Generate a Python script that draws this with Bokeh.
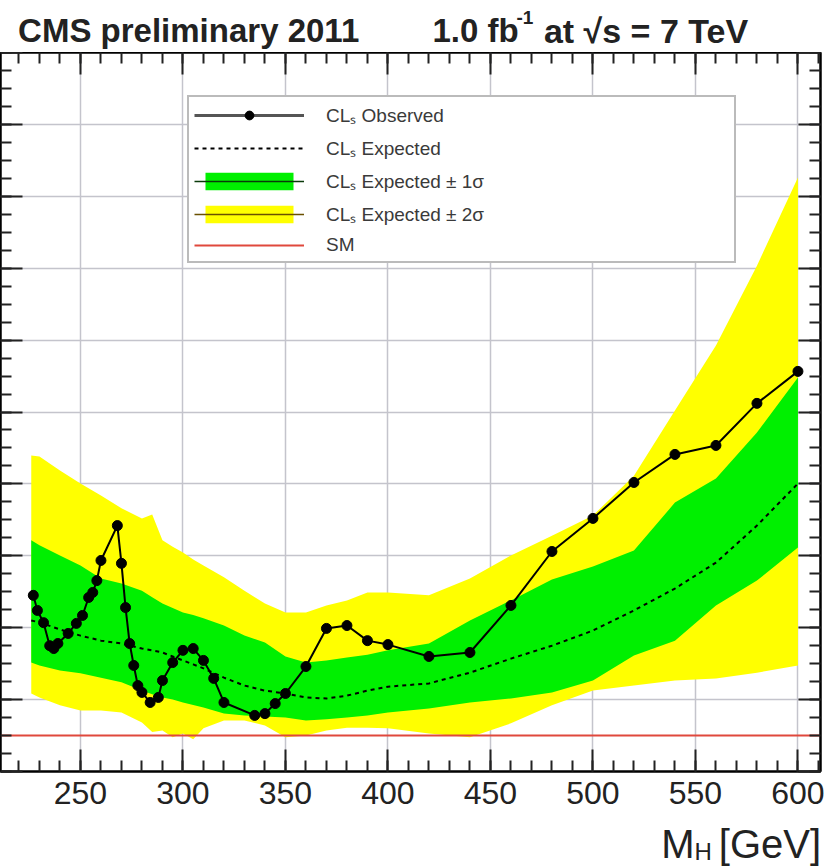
from bokeh.plotting import figure
from bokeh.layouts import column
from bokeh.models import (Range1d, LinearAxis, SingleIntervalTicker, Label, Legend,
                          LegendItem, Grid, CustomJSTickFormatter)
from bokeh.embed import file_html
from bokeh.resources import INLINE

# ---------------- data ----------------
obs_mass = [227, 229, 232, 235, 237, 239, 244, 248, 251, 254, 256, 258, 260, 268, 270,
            272, 274, 276, 278, 280, 284, 288, 290, 295, 300, 305, 310, 315, 320, 335,
            340, 345, 350, 360, 370, 380, 390, 400, 420, 440, 460, 480, 500, 520, 540,
            560, 580, 600]
obs_limit = [4.9, 4.48, 4.14, 3.5, 3.42, 3.56, 3.84, 4.12, 4.34, 4.84, 4.98, 5.31, 5.87, 6.84, 5.79,
             4.56, 3.56, 2.95, 2.39, 2.2, 1.92, 2.06, 2.53, 3.03, 3.37, 3.42, 3.09, 2.59, 1.92, 1.56,
             1.61, 1.89, 2.17, 2.92, 3.98, 4.06, 3.64, 3.53, 3.2, 3.31, 4.62, 6.12, 7.04, 8.04, 8.82,
             9.07, 10.24, 11.13]

band_mass = [226, 230, 240, 250, 260, 270, 280, 285, 290, 295, 300, 305, 310, 320, 330, 340,
             350, 360, 370, 380, 390, 400, 420, 440, 460, 480, 500, 520, 540, 560, 580, 600]
exp_median = [4.2, 4.15, 3.95, 3.78, 3.64, 3.56, 3.42, 3.37, 3.31, 3.2, 3.09, 2.98, 2.87, 2.61, 2.39, 2.25,
              2.17, 2.06, 2.03, 2.11, 2.25, 2.36, 2.45, 2.75, 3.14, 3.5, 3.92, 4.48, 5.09, 5.81, 6.84, 8.01]
exp_p1 = [6.43, 6.29, 6.01, 5.73, 5.37, 5.23, 5.03, 4.85, 4.67, 4.55, 4.42, 4.35, 4.26, 4.06, 3.78, 3.59,
          3.2, 3.03, 3.09, 3.17, 3.25, 3.37, 3.56, 4.2, 4.76, 5.34, 5.7, 6.15, 7.48, 8.15, 9.43, 10.96]
exp_m1 = [3.03, 2.95, 2.81, 2.73, 2.61, 2.48, 2.25, 2.15, 2.06, 2.0, 1.92, 1.85, 1.78, 1.61, 1.56, 1.53,
          1.5, 1.42, 1.45, 1.5, 1.56, 1.64, 1.75, 1.92, 2.03, 2.2, 2.53, 3.23, 3.64, 4.62, 5.31, 6.23]
exp_p2 = [8.79, 8.76, 8.37, 8.01, 7.68, 7.32, 7.04, 7.15, 6.43, 6.25, 6.09, 5.9, 5.73, 5.4, 5.03, 4.67,
          4.42, 4.42, 4.62, 4.76, 4.98, 4.98, 4.9, 5.37, 6.01, 6.56, 7.12, 8.23, 10.04, 11.85, 14.07, 16.52]
exp_m2 = [2.17, 2.06, 1.84, 1.7, 1.7, 1.64, 1.36, 1.1, 1.14, 0.95, 1.06, 0.9, 1.2, 1.42, 1.42, 1.28,
          0.95, 1.0, 1.14, 1.22, 1.22, 1.2, 1.06, 0.95, 1.34, 1.84, 2.25, 2.39, 2.53, 2.59, 2.75, 2.95]
sm_level = 1.0

x_range_lim = (211, 611)
y_range_lim = (0, 20)
x_major_step, x_minor_per = 50, 5
y_major_step, y_minor_per = 2, 4

legend_labels = ["CL\u209b Observed", "CL\u209b Expected", "CL\u209b Expected \u00b1 1\u03c3",
                 "CL\u209b Expected \u00b1 2\u03c3", "SM"]
header_left = "CMS preliminary 2011"
header_lumi = "1.0 fb"
header_lumi_sup = "-1"
header_energy = "at \u221as = 7 TeV"
xtitle_main, xtitle_sub, xtitle_unit = "M", "H", "[GeV]"

# ---------------- layout constants (pixels) ----------------
W = 839
HEAD_H = 52
FRAME_H = 719
MAIN_BOTTOM = 45
MAIN_H = FRAME_H + MAIN_BOTTOM
FOOT_H = 868 - HEAD_H - MAIN_H
FR = 820
FONT = "Liberation Sans"
TXT = "#222222"

# ---------------- header strip ----------------
head = figure(width=W, height=HEAD_H, output_backend="svg", toolbar_location=None, title=None,
              x_range=Range1d(0, W), y_range=Range1d(0, HEAD_H),
              x_axis_type=None, y_axis_type=None, min_border=0, outline_line_color=None)
head.grid.visible = False
hb = 22  # baseline height from bottom of strip
head.add_layout(Label(x=18, y=hb, text=header_left, text_font=FONT, text_font_size="33px",
                      text_font_style="bold", text_color=TXT, text_baseline="alphabetic"))
head.add_layout(Label(x=442, y=hb, text=header_lumi, text_font=FONT, text_font_size="33px",
                      text_font_style="bold", text_color=TXT, text_baseline="alphabetic"))
head.add_layout(Label(x=528, y=hb + 13, text=header_lumi_sup, text_font=FONT, text_font_size="19px",
                      text_font_style="bold", text_color=TXT, text_baseline="alphabetic"))
head.add_layout(Label(x=556, y=hb, text=header_energy, text_font=FONT, text_font_size="34px",
                      text_font_style="bold", text_color=TXT, text_baseline="alphabetic"))

# ---------------- main plot ----------------
p = figure(width=W, height=MAIN_H, output_backend="svg", toolbar_location=None,
           x_range=Range1d(*x_range_lim), y_range=Range1d(*y_range_lim),
           x_axis_type=None, y_axis_type=None,
           min_border_left=0, min_border_right=W - FR, min_border_top=0,
           min_border_bottom=MAIN_BOTTOM)
p.outline_line_color = "black"
p.outline_line_width = 2
p.background_fill_color = "white"
p.border_fill_color = "white"

xt = SingleIntervalTicker(interval=x_major_step, num_minor_ticks=x_minor_per)
yt = SingleIntervalTicker(interval=y_major_step, num_minor_ticks=y_minor_per)
blank = CustomJSTickFormatter(code="return ''")


def make_axis(ticker, show_labels=False):
    ax = LinearAxis(ticker=ticker)
    ax.major_tick_in = 22
    ax.major_tick_out = 0
    ax.minor_tick_in = 11
    ax.minor_tick_out = 0
    ax.axis_line_width = 2
    ax.axis_line_color = "black"
    ax.major_tick_line_width = 2
    ax.minor_tick_line_width = 2
    ax.major_tick_line_color = "#222222"
    ax.minor_tick_line_color = "#222222"
    if show_labels:
        ax.major_label_text_font = FONT
        ax.major_label_text_font_size = "32px"
        ax.major_label_text_color = TXT
        ax.major_label_standoff = 10
    else:
        ax.formatter = blank
        ax.major_label_text_font_size = "1px"
        ax.major_label_standoff = 0
    return ax


p.add_layout(make_axis(xt, True), "below")
p.add_layout(make_axis(xt), "above")
p.add_layout(make_axis(yt), "left")
p.add_layout(make_axis(yt), "right")
p.add_layout(Grid(dimension=0, ticker=xt, grid_line_color="#c4c4cc", grid_line_width=1.5))
p.add_layout(Grid(dimension=1, ticker=yt, grid_line_color="#c4c4cc", grid_line_width=1.5))

# bands and expected
r_y = p.varea(x=band_mass, y1=exp_m2, y2=exp_p2, fill_color="#ffff00")
r_g = p.varea(x=band_mass, y1=exp_m1, y2=exp_p1, fill_color="#00f000")
r_exp = p.line(band_mass, exp_median, line_color="black", line_width=2, line_dash="4 4")

# SM reference line across the full mass range
r_sm = p.line(list(x_range_lim), [sm_level, sm_level], line_color="#e0483c", line_width=2)

# observed
r_obs_l = p.line(obs_mass, obs_limit, line_color="black", line_width=2)
r_obs_m = p.scatter(obs_mass, obs_limit, marker="circle", size=10, color="black")

# legend-only line samples (NaN data: invisible in the plot)
nan = float("nan")
r_gline = p.line(x=[nan], y=[nan], line_color="#0a3a0a", line_width=1.5)
r_yline = p.line(x=[nan], y=[nan], line_color="#6a5000", line_width=1.5)
r_obs_leg = p.line(x=[nan], y=[nan], line_color="#555555", line_width=3)

legend = Legend(items=[
    LegendItem(label=legend_labels[0], renderers=[r_obs_leg, r_obs_m]),
    LegendItem(label=legend_labels[1], renderers=[r_exp]),
    LegendItem(label=legend_labels[2], renderers=[r_g, r_gline]),
    LegendItem(label=legend_labels[3], renderers=[r_y, r_yline]),
    LegendItem(label=legend_labels[4], renderers=[r_sm]),
], location=(187, FRAME_H - (263 - HEAD_H)), orientation="vertical",
    glyph_width=110, glyph_height=22, label_standoff=22, label_width=403, label_height=22,
    spacing=7, padding=5, margin=0,
    border_line_color="#777777", border_line_width=2,
    background_fill_color="white", background_fill_alpha=1.0,
    label_text_font=FONT, label_text_font_size="19px", label_text_color="#3a3a3a")
p.add_layout(legend)

# ---------------- footer strip with the axis title ----------------
foot = figure(width=W, height=FOOT_H, output_backend="svg", toolbar_location=None, title=None,
              x_range=Range1d(0, W), y_range=Range1d(0, FOOT_H),
              x_axis_type=None, y_axis_type=None, min_border=0, outline_line_color=None)
foot.grid.visible = False
fb = 25  # baseline height from bottom of strip
foot.add_layout(Label(x=676, y=fb, text=xtitle_main, text_font=FONT, text_font_size="40px",
                      text_color=TXT, text_align="left", text_baseline="alphabetic"))
foot.add_layout(Label(x=710, y=fb - 8, text=xtitle_sub, text_font=FONT, text_font_size="24px",
                      text_color=TXT, text_align="left", text_baseline="alphabetic"))
foot.add_layout(Label(x=735, y=fb, text=xtitle_unit, text_font=FONT, text_font_size="40px",
                      text_color=TXT, text_align="left", text_baseline="alphabetic"))

layout = column(head, p, foot, spacing=0)
open("out.html", "w").write(file_html(layout, INLINE))
